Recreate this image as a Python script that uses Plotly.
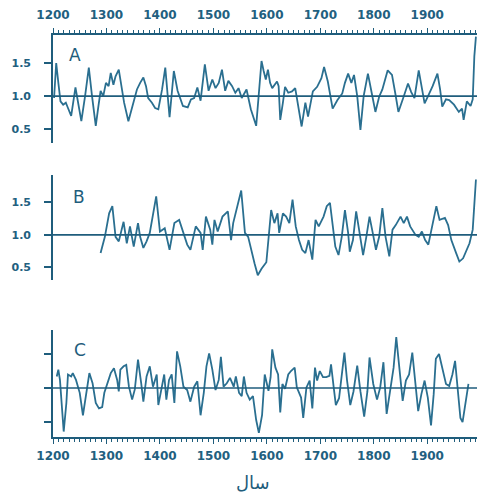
import plotly.graph_objects as go

# ---------------- data ----------------
year_ticks = [1200, 1300, 1400, 1500, 1600, 1700, 1800, 1900]
year_tick_labels = ["1200", "1300", "1400", "1500", "1600", "1700", "1800", "1900"]
y_ticks = [0.5, 1.0, 1.5]
y_tick_labels = ["0.5", "1.0", "1.5"]
panel_labels = ["A", "B", "C"]
x_title = "سال"

a_years = [1202, 1206, 1210, 1214, 1219, 1224, 1228, 1234, 1242, 1247, 1253, 1260, 1267, 1273,
           1280, 1285, 1289, 1294, 1299, 1304, 1308, 1313, 1317, 1323, 1327, 1333, 1341, 1349,
           1357, 1363, 1369, 1374, 1378, 1385, 1391, 1397, 1404, 1410, 1418, 1426, 1433, 1443,
           1452, 1458, 1464, 1470, 1476, 1484, 1491, 1498, 1504, 1510, 1516, 1522, 1528, 1535,
           1541, 1547, 1553, 1562, 1570, 1580, 1586, 1590,
           1594, 1598, 1602, 1606, 1610, 1619, 1622, 1625, 1630, 1634, 1640, 1647, 1653, 1659,
           1665, 1672, 1677, 1686, 1694, 1702, 1707, 1714, 1723, 1732, 1741, 1746, 1752, 1758,
           1763, 1769, 1775, 1781, 1789, 1796, 1803, 1810, 1816, 1826, 1834, 1840, 1846, 1855,
           1864, 1870, 1876, 1884, 1890, 1895, 1901, 1910, 1919, 1924, 1928, 1935, 1941, 1950,
           1959, 1965, 1968, 1974, 1981, 1985, 1988, 1991]
a_vals = [0.97, 1.50, 1.20, 0.92, 0.87, 0.90, 0.82, 0.70, 1.13, 0.90, 0.62, 1.00, 1.43, 1.00,
          0.55, 0.85, 1.08, 1.00, 1.20, 1.15, 1.35, 1.17, 1.30, 1.40, 1.20, 0.90, 0.62, 0.85,
          1.10, 1.20, 1.28, 1.15, 0.97, 0.90, 0.82, 0.80, 1.10, 1.43, 0.68, 1.38, 1.08, 0.85,
          0.83, 0.95, 0.97, 1.13, 0.93, 1.48, 1.08, 1.25, 1.12, 1.20, 1.40, 1.08, 1.23, 1.15,
          1.05, 1.12, 0.97, 1.10, 0.80, 0.55, 1.10, 1.53,
          1.38, 1.25, 1.40, 1.20, 1.12, 1.22, 1.15, 0.64, 0.90, 1.14, 1.05, 1.07, 1.12, 0.85,
          0.54, 0.90, 0.69, 1.07, 1.14, 1.27, 1.44, 1.22, 0.81, 0.94, 1.04, 1.20, 1.34, 1.20,
          1.32, 1.00, 0.49, 1.00, 1.34, 1.05, 0.76, 0.99, 1.10, 1.39, 1.32, 1.05, 0.76, 0.97,
          1.19, 1.06, 0.97, 1.39, 1.10, 0.89, 0.99, 1.15, 1.34, 1.10, 0.84, 0.95, 0.94, 0.87,
          0.76, 0.81, 0.64, 0.92, 0.85, 0.95, 1.60, 1.90]

b_years = [1289, 1297, 1305, 1311, 1317, 1323, 1332, 1338, 1344, 1351, 1359, 1363, 1369, 1375,
           1381, 1387, 1393, 1400, 1409, 1418, 1427, 1436, 1442, 1451, 1457, 1467, 1476, 1480,
           1486, 1494, 1498, 1502, 1508, 1517, 1527, 1533, 1537, 1547, 1552, 1559, 1565, 1577,
           1583, 1590, 1599, 1608, 1614, 1620, 1623, 1630, 1636, 1642, 1648, 1654, 1660, 1666,
           1672, 1678, 1685, 1691, 1697, 1706, 1712, 1718, 1728, 1734, 1740, 1746, 1752, 1755,
           1761, 1767, 1773, 1780, 1786, 1792, 1798, 1804, 1810, 1816, 1822, 1829, 1835, 1841,
           1850, 1856, 1862, 1868, 1878, 1884, 1890, 1896, 1902, 1911, 1917, 1923, 1933, 1939,
           1945, 1954, 1960, 1967, 1973, 1979, 1985, 1988, 1991]
b_vals = [0.72, 0.97, 1.33, 1.44, 0.97, 0.90, 1.20, 0.87, 1.13, 0.82, 1.18, 0.97, 0.80, 0.90,
          1.03, 1.31, 1.59, 1.05, 1.10, 0.77, 1.18, 1.23, 1.08, 0.85, 0.77, 1.13, 1.03, 0.77,
          1.28, 1.08, 0.85, 1.23, 1.05, 1.28, 1.36, 0.92, 1.18, 1.50, 1.68, 1.03, 0.97, 0.56,
          0.38, 0.48, 0.58, 1.38, 1.18, 1.33, 1.03, 1.33, 1.28, 1.18, 1.54, 1.13, 0.92, 0.77,
          0.72, 0.92, 0.62, 1.23, 1.13, 1.28, 1.44, 1.49, 0.82, 0.69, 0.97, 1.38, 1.03, 0.74,
          0.92, 1.36, 1.03, 0.69, 0.97, 1.28, 1.03, 0.77, 0.97, 1.41, 0.97, 0.67, 1.08, 1.15,
          1.28, 1.18, 1.28, 1.13, 1.00, 0.97, 1.05, 0.92, 0.85, 1.21, 1.44, 1.23, 1.26, 1.15,
          0.92, 0.72, 0.59, 0.64, 0.77, 0.87, 1.08, 1.50, 1.85]

c_years = [1207, 1210, 1213, 1216, 1220, 1225, 1228, 1234, 1237, 1243, 1250, 1256, 1262, 1268,
           1274, 1280, 1286, 1292, 1296, 1302, 1308, 1314, 1320, 1323, 1326, 1332, 1337, 1342,
           1348, 1353, 1359, 1365, 1369, 1375, 1381, 1387, 1394, 1397, 1403, 1408, 1412, 1417,
           1422, 1427, 1432, 1438, 1444, 1451, 1457, 1464, 1470, 1476, 1482, 1487, 1492, 1498,
           1504, 1510, 1514, 1519, 1525, 1531, 1538, 1542, 1548, 1553, 1557, 1562, 1568, 1574,
           1580, 1585, 1591,
           1596, 1603, 1607, 1610, 1616, 1621, 1625, 1629, 1634, 1640, 1645, 1652, 1656, 1664,
           1668, 1674, 1680, 1685, 1690, 1694, 1699, 1705, 1711, 1717, 1720, 1725, 1729, 1735,
           1739, 1745, 1750, 1756, 1762, 1769, 1775, 1782, 1788, 1792, 1799, 1806, 1812, 1818,
           1824, 1830, 1837, 1842, 1848, 1854, 1860, 1866, 1872, 1878, 1883, 1889, 1895, 1901,
           1907, 1912, 1916, 1922, 1928, 1935, 1941, 1947, 1952, 1956, 1962, 1966, 1971, 1977]
c_vals = [1.17, 1.27, 1.12, 0.73, 0.36, 0.78, 1.20, 1.17, 1.22, 1.12, 0.93, 0.60, 0.93, 1.22,
          1.07, 0.78, 0.70, 0.72, 0.93, 1.07, 1.22, 1.29, 1.12, 0.95, 1.27, 1.32, 1.34, 1.02,
          0.83, 0.98, 1.42, 1.07, 0.80, 1.17, 1.32, 1.02, 1.20, 0.75, 1.02, 1.20, 0.83, 1.12,
          1.20, 0.78, 1.54, 1.32, 1.02, 0.97, 0.80, 1.02, 1.10, 0.60, 0.93, 1.32, 1.51, 1.27,
          0.97, 1.12, 1.46, 1.02, 1.07, 1.15, 1.02, 1.17, 0.93, 0.88, 1.17, 0.93, 0.83, 0.88,
          0.53, 0.34, 0.60,
          1.20, 0.96, 1.16, 1.57, 1.30, 1.20, 0.64, 1.06, 0.99, 1.20, 1.25, 1.30, 1.01, 0.86,
          0.56, 1.01, 1.11, 0.70, 1.30, 1.11, 1.25, 1.16, 1.16, 1.18, 1.35, 1.01, 0.75, 0.85,
          1.11, 1.52, 1.11, 0.75, 0.95, 1.33, 0.95, 0.58, 0.95, 1.45, 1.06, 0.83, 1.01, 1.38,
          0.62, 0.91, 1.30, 1.75, 1.30, 0.81, 1.11, 1.20, 1.52, 1.06, 0.66, 0.91, 1.11, 0.86,
          0.45, 0.91, 1.43, 1.50, 1.30, 1.06, 1.03, 1.20, 1.40, 1.06, 0.56, 0.50, 0.75, 1.06]

reference_value = 1.0

# ---------------- styling ----------------
AX = "#1f5d7c"
LINE = "#2a6f90"
TXT = "#22607f"
FONT = "DejaVu Sans"
X_RANGE = [1200, 1993]

fig = go.Figure()
for xs, ys, xa, ya in [(a_years, a_vals, "x", "y"),
                       (b_years, b_vals, "x2", "y2"),
                       (c_years, c_vals, "x3", "y3")]:
    fig.add_trace(go.Scatter(x=xs, y=ys, xaxis=xa, yaxis=ya, mode="lines",
                             line=dict(color=LINE, width=1.8), showlegend=False,
                             hoverinfo="skip"))

x_common = dict(range=X_RANGE, showgrid=False, zeroline=False, automargin=False,
                linecolor=AX, linewidth=1.6, tickcolor=AX,
                tickvals=year_ticks, ticktext=year_tick_labels,
                tickfont=dict(family=FONT, size=12, color=TXT, weight="bold"))

y_common = dict(showgrid=False, zeroline=False, showline=True, linecolor=AX, linewidth=1.6,
                automargin=False,
                ticks="outside", ticklen=7, tickcolor=AX, tickwidth=1.5,
                tickvals=y_ticks, ticktext=y_tick_labels, ticklabelstandoff=11,
                tickfont=dict(family=FONT, size=11, color=TXT, weight="bold"))

fig.update_layout(
    width=470, height=484,
    margin=dict(l=45, r=1, t=27, b=55),
    paper_bgcolor="white", plot_bgcolor="white",
    showlegend=False,
    xaxis=dict(**x_common, domain=[0, 1], anchor="y", side="top", showline=True,
               ticks="outside", ticklen=5, ticklabelstandoff=4,
               minor=dict(tick0=1200, dtick=10, ticks="outside", ticklen=3, tickcolor=AX)),
    yaxis=dict(**y_common, domain=[0.731, 1.0], range=[0.288, 1.924], anchor="x"),
    xaxis2=dict(range=X_RANGE, domain=[0, 1], anchor="y2", visible=False),
    yaxis2=dict(**y_common, domain=[0.391, 0.652], range=[0.31, 1.92], anchor="x2"),
    xaxis3=dict(**x_common, domain=[0, 1], anchor="y3", side="bottom", showline=True,
                ticks="outside", ticklen=5, ticklabelstandoff=2,
                minor=dict(tick0=1200, dtick=10, ticks="outside", ticklen=3, tickcolor=AX)),
    yaxis3=dict(**{k: v for k, v in y_common.items() if k != "tickfont"},
                domain=[0.0, 0.266], range=[0.28, 1.853], anchor="x3",
                showticklabels=False),
)

# horizontal reference line at 1.0 in each panel
for ya, xa in [("y", "x"), ("y2", "x2"), ("y3", "x3")]:
    fig.add_shape(type="line", xref=f"{xa} domain", yref=ya, x0=0, x1=1,
                  y0=reference_value, y1=reference_value,
                  line=dict(color=AX, width=1.6))

# panel letters
letter_pos = [(0.033, 0.926), (0.042, 0.905), (0.045, 0.925)]
for lab, xa, ya, (lx, ly) in zip(panel_labels, ["x", "x2", "x3"], ["y", "y2", "y3"], letter_pos):
    fig.add_annotation(text=lab, xref=f"{xa} domain", yref=f"{ya} domain",
                       x=lx, y=ly, xanchor="left", yanchor="top", showarrow=False,
                       font=dict(family=FONT, size=17, color=AX))

fig.add_annotation(text=x_title, xref="paper", yref="paper", x=0.472, y=-0.112,
                   xanchor="center", yanchor="middle", showarrow=False,
                   font=dict(family=FONT, size=18, color=AX))

fig.write_html("out.html")
